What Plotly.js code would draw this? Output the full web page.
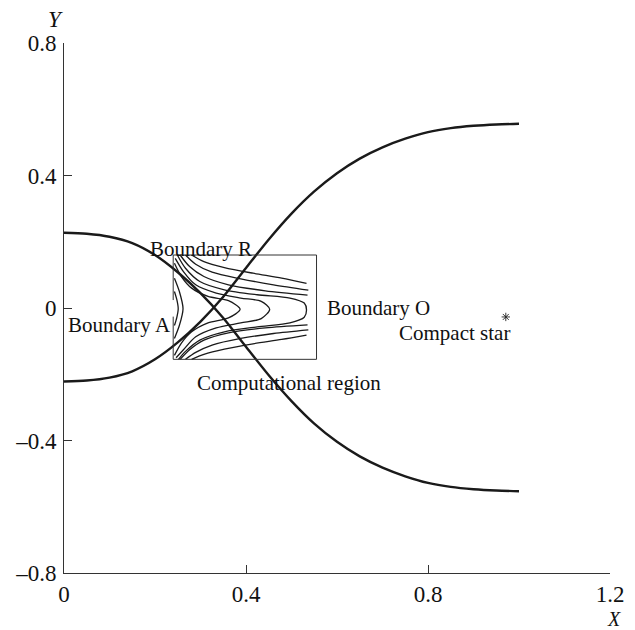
<!DOCTYPE html>
<html>
<head>
<meta charset="utf-8">
<script src="https://cdn.plot.ly/plotly-3.0.1.min.js"></script>
<style>
  html, body { margin: 0; padding: 0; background: #fff; }
  #chart { width: 635px; height: 630px; }
</style>
</head>
<body>
<div id="chart"></div>
<script>
// Boundary curves (sampled along X)
const curveX = [0, 0.05, 0.1, 0.15, 0.2, 0.25, 0.3, 0.35, 0.4, 0.45, 0.5, 0.55, 0.6, 0.65, 0.7, 0.75, 0.8, 0.85, 0.9, 0.95, 1.0];
const fallingY = [0.227, 0.224, 0.215, 0.196, 0.160, 0.108, 0.045, -0.030, -0.117, -0.203, -0.281, -0.349, -0.404, -0.448, -0.482, -0.508, -0.528, -0.540, -0.547, -0.551, -0.553];
const risingY  = [-0.222, -0.219, -0.210, -0.191, -0.155, -0.104, -0.041, 0.034, 0.121, 0.207, 0.285, 0.352, 0.407, 0.451, 0.485, 0.511, 0.531, 0.543, 0.550, 0.554, 0.556];

// Position of the compact star
const starX = [0.971];
const starY = [-0.027];

// Computational region frame, with an opening on boundary A
const regionX = [0.240, 0.555];
const regionY = [-0.155, 0.160];
const openingY = [-0.026, 0.024];

// Streamlines inside the computational region
const upperFanX = [
  [0.2805, 0.3075, 0.3525, 0.4155, 0.4785, 0.533],
  [0.267, 0.2895, 0.3255, 0.3885, 0.4605, 0.537],
  [0.2553, 0.276, 0.3075, 0.3615, 0.4425, 0.5352]
];
const upperFanY = [
  [0.160, 0.140, 0.122, 0.105, 0.090, 0.074],
  [0.160, 0.132, 0.108, 0.088, 0.070, 0.054],
  [0.160, 0.125, 0.095, 0.070, 0.052, 0.039]
];
const lowerFanX = [
  [0.2805, 0.3075, 0.3525, 0.4155, 0.4785, 0.533],
  [0.267, 0.2895, 0.3255, 0.3885, 0.4605, 0.537],
  [0.2553, 0.276, 0.3075, 0.3615, 0.4425, 0.5352]
];
const lowerFanY = [
  [-0.155, -0.140, -0.124, -0.108, -0.095, -0.082],
  [-0.155, -0.134, -0.112, -0.092, -0.077, -0.066],
  [-0.155, -0.126, -0.097, -0.075, -0.060, -0.051]
];
const loopX = [
  [0.249, 0.267, 0.2985, 0.3525, 0.4245, 0.4965, 0.528, 0.533, 0.528, 0.4965, 0.4245, 0.3525, 0.2985, 0.267, 0.2517],
  [0.2445, 0.2625, 0.2895, 0.3345, 0.3885, 0.4335, 0.452, 0.4335, 0.3885, 0.3345, 0.2895, 0.2625, 0.2463],
  [0.2427, 0.258, 0.2805, 0.3165, 0.3615, 0.387, 0.3615, 0.3165, 0.2805, 0.258, 0.2427]
];
const loopY = [
  [0.160, 0.12, 0.08, 0.055, 0.04, 0.030, 0.015, -0.006, -0.028, -0.045, -0.057, -0.072, -0.097, -0.131, -0.155],
  [0.150, 0.11, 0.07, 0.045, 0.030, 0.020, -0.004, -0.032, -0.045, -0.060, -0.087, -0.126, -0.150],
  [0.135, 0.095, 0.06, 0.035, 0.022, -0.004, -0.030, -0.045, -0.072, -0.106, -0.143]
];
const innerArcX = [
  [0.2427, 0.2535, 0.2616, 0.2535, 0.2427],
  [0.2427, 0.248, 0.251, 0.248, 0.2427]
];
const innerArcY = [
  [0.09, 0.05, -0.002, -0.053, -0.092],
  [0.05, 0.025, -0.002, -0.028, -0.053]
];

// Axis ticks
const xTicks = [0, 0.4, 0.8, 1.2];
const xTickText = ['0', '0.4', '0.8', '1.2'];
const yTicks = [-0.8, -0.4, 0, 0.4, 0.8];
const yTickText = ['\u20130.8', '\u20130.4', '0', '0.4', '0.8'];

const serif = 'Liberation Serif, Times New Roman, serif';
const ink = '#1a1a1a';

const traces = [];
function addLine(xs, ys, width) {
  traces.push({
    type: 'scatter', mode: 'lines', x: xs, y: ys,
    line: { color: ink, width: width, shape: 'spline', smoothing: 0.8 },
    hoverinfo: 'skip', showlegend: false
  });
}

addLine(curveX, fallingY, 2.4);
addLine(curveX, risingY, 2.4);

[upperFanX, lowerFanX, loopX, innerArcX].forEach((group, g) => {
  const ys = [upperFanY, lowerFanY, loopY, innerArcY][g];
  group.forEach((xs, i) => addLine(xs, ys[i], 1.3));
});

// Frame of the computational region
traces.push({
  type: 'scatter', mode: 'lines',
  x: [regionX[0], regionX[0], regionX[1], regionX[1], regionX[0], regionX[0]],
  y: [openingY[1], regionY[1], regionY[1], regionY[0], regionY[0], openingY[0]],
  line: { color: '#333', width: 1 },
  hoverinfo: 'skip', showlegend: false
});

// Compact star marker
traces.push({
  type: 'scatter', mode: 'markers', x: starX, y: starY,
  marker: { symbol: 'asterisk-open', size: 7, color: '#222', line: { color: '#222', width: 0.9 } },
  hoverinfo: 'skip', showlegend: false
});

const labelFont = { family: serif, size: 21, color: '#111' };
const annotations = [
  { x: 0.302, y: 0.177, text: 'Boundary R' },
  { x: 0.123, y: -0.051, text: 'Boundary A' },
  { x: 0.691, y: 0.0, text: 'Boundary O' },
  { x: 0.858, y: -0.076, text: 'Compact star' },
  { x: 0.495, y: -0.227, text: 'Computational region' }
].map(a => Object.assign({ xref: 'x', yref: 'y', showarrow: false, font: labelFont,
  xanchor: 'center', yanchor: 'middle' }, a));

annotations.push(
  { xref: 'paper', yref: 'paper', x: -0.016, y: 1.0434, text: '<i>Y</i>', showarrow: false,
    xanchor: 'center', yanchor: 'middle', font: { family: serif, size: 23, color: '#111' } },
  { xref: 'paper', yref: 'paper', x: 1.007, y: -0.0865, text: '<i>X</i>', showarrow: false,
    xanchor: 'center', yanchor: 'middle', font: { family: serif, size: 20, color: '#111' } }
);

const axisCommon = {
  showgrid: false, zeroline: false, showline: true, linecolor: '#333', linewidth: 1,
  ticks: 'inside', ticklen: 8, tickcolor: '#333', tickwidth: 1,
  tickfont: { family: serif, size: 23, color: '#111' }, fixedrange: true
};

const layout = {
  width: 635, height: 630,
  margin: { l: 64, r: 25, t: 43, b: 57 },
  paper_bgcolor: '#fff', plot_bgcolor: '#fff',
  xaxis: Object.assign({}, axisCommon, {
    range: [0, 1.2], tickmode: 'array', tickvals: xTicks, ticktext: xTickText
  }),
  yaxis: Object.assign({}, axisCommon, {
    range: [-0.8, 0.8], tickmode: 'array', tickvals: yTicks, ticktext: yTickText, ticklabelstandoff: 2
  }),
  annotations: annotations,
  showlegend: false
};

Plotly.newPlot('chart', traces, layout, { staticPlot: true, displayModeBar: false });
</script>
</body>
</html>
